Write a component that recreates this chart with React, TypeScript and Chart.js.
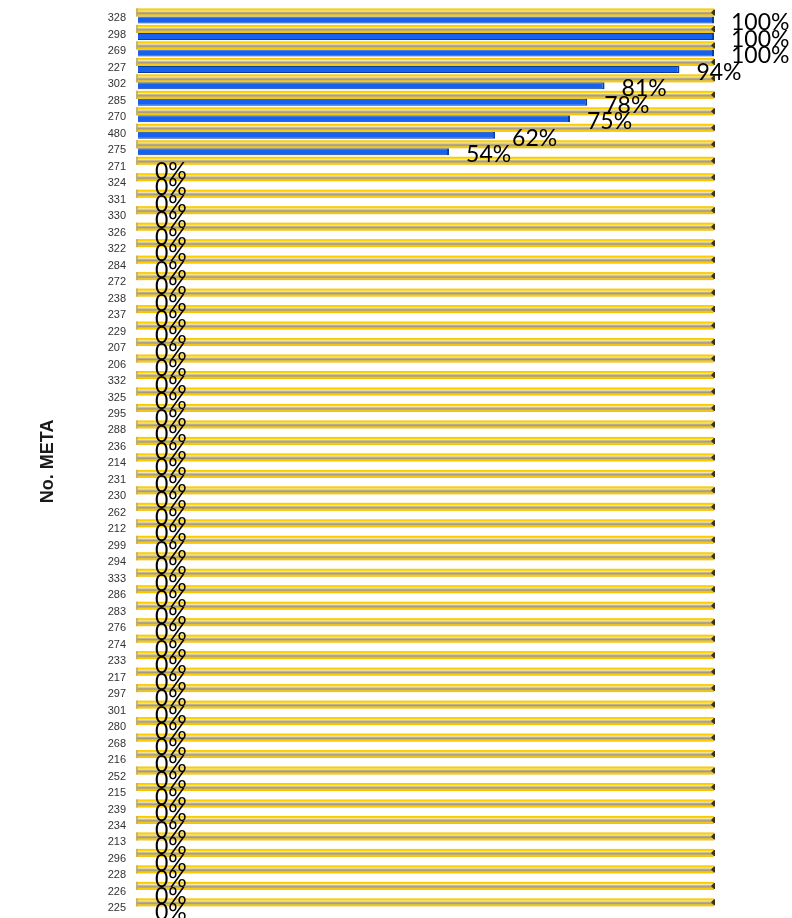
import React, { useEffect, useRef } from 'react';
import { Chart, registerables } from 'chart.js';

Chart.register(...registerables);

const categories = [
  '328', '298', '269', '227', '302', '285', '270', '480', '275', '271',
  '324', '331', '330', '326', '322', '284', '272', '238', '237', '229',
  '207', '206', '332', '325', '295', '288', '236', '214', '231', '230',
  '262', '212', '299', '294', '333', '286', '283', '276', '274', '233',
  '217', '297', '301', '280', '268', '216', '252', '215', '239', '234',
  '213', '296', '228', '226', '225',
];

const metaValues = [
  100, 100, 100, 94, 81, 78, 75, 62, 54, 0,
  0, 0, 0, 0, 0, 0, 0, 0, 0, 0,
  0, 0, 0, 0, 0, 0, 0, 0, 0, 0,
  0, 0, 0, 0, 0, 0, 0, 0, 0, 0,
  0, 0, 0, 0, 0, 0, 0, 0, 0, 0,
  0, 0, 0, 0, 0,
];

const targetValues = [
  100, 100, 100, 100, 100, 100, 100, 100, 100, 100,
  100, 100, 100, 100, 100, 100, 100, 100, 100, 100,
  100, 100, 100, 100, 100, 100, 100, 100, 100, 100,
  100, 100, 100, 100, 100, 100, 100, 100, 100, 100,
  100, 100, 100, 100, 100, 100, 100, 100, 100, 100,
  100, 100, 100, 100, 100,
];

const axisTitle = 'No. META';

const goldBarsPlugin = {
  id: 'goldBars',
  beforeDatasetDraw(chart: any, args: any) {
    if (args.index !== 0) return;
    const ctx = chart.ctx;
    const meta = chart.getDatasetMeta(0);
    ctx.save();
    meta.data.forEach((el: any) => {
      const { x, y, base, height } = el.getProps(['x', 'y', 'base', 'height'], true);
      const top = y - height / 2 - 1;
      const h = height + 1;
      const g = ctx.createLinearGradient(0, top, 0, top + h);
      g.addColorStop(0, '#f5c400');
      g.addColorStop(0.2, '#ffd500');
      g.addColorStop(0.33, '#f3e7b4');
      g.addColorStop(0.5, '#b8ae92');
      g.addColorStop(0.62, '#9f9783');
      g.addColorStop(0.75, '#dcbd3c');
      g.addColorStop(0.86, '#ffcc00');
      g.addColorStop(1, '#efb900');
      ctx.fillStyle = g;
      ctx.fillRect(base - 2, top, x - base + 2, h);
      ctx.fillStyle = 'rgba(190,170,120,0.8)';
      ctx.fillRect(base - 2, top, 2, h);
      ctx.fillStyle = '#3a3318';
      ctx.beginPath();
      ctx.moveTo(x - 3, top + h / 2);
      ctx.lineTo(x, top + 1);
      ctx.lineTo(x + 1, top + 1);
      ctx.lineTo(x + 1, top + h - 1);
      ctx.lineTo(x, top + h - 1);
      ctx.closePath();
      ctx.fill();
    });
    ctx.restore();
    return false;
  },
};

const valueLabelsPlugin = {
  id: 'valueLabels',
  afterDatasetsDraw(chart: any) {
    const ctx = chart.ctx;
    const meta = chart.getDatasetMeta(1);
    const data = chart.data.datasets[1].data;
    ctx.save();
    ctx.font = '23px Lato, "Liberation Sans", sans-serif';
    ctx.fillStyle = '#000000';
    ctx.textAlign = 'left';
    ctx.textBaseline = 'middle';
    meta.data.forEach((el: any, i: number) => {
      const { x, y } = el.getProps(['x', 'y'], true);
      ctx.fillText(`${data[i]}%`, x + 17, y + 3);
    });
    ctx.restore();
  },
};

export default function App() {
  const canvasRef = useRef<HTMLCanvasElement | null>(null);

  useEffect(() => {
    document.body.style.margin = '0';
    const canvas = canvasRef.current;
    if (!canvas) return;
    const chart = new Chart(canvas, {
      type: 'bar',
      data: {
        labels: categories,
        datasets: [
          {
            label: 'Meta',
            data: targetValues,
            backgroundColor: '#ffcc00',
            borderWidth: 0,
          },
          {
            label: 'Avance',
            data: metaValues,
            backgroundColor: '#1662ee',
            borderColor: '#0a3c9e',
            borderWidth: { top: 1, bottom: 1, right: 2, left: 0 },
            borderSkipped: 'start',
          },
        ],
      },
      options: {
        indexAxis: 'y',
        responsive: false,
        animation: false,
        devicePixelRatio: 1,
        datasets: {
          bar: {
            categoryPercentage: 0.85,
            barPercentage: 1,
          },
        },
        layout: {
          padding: { top: 8.2, bottom: 3.4, left: 0, right: 78 },
        },
        plugins: {
          legend: { display: false },
          tooltip: { enabled: false },
        },
        scales: {
          x: {
            display: false,
            min: 0,
            max: 100,
          },
          y: {
            afterFit: (scale: any) => {
              scale.width = 138;
              scale.paddingTop = 0;
              scale.paddingBottom = 0;
            },
            grid: { display: false, drawTicks: false },
            border: { display: false },
            ticks: {
              autoSkip: false,
              padding: 12,
              labelOffset: 2,
              color: '#333333',
              font: { family: '"Liberation Sans", Arial, sans-serif', size: 11 },
            },
            title: {
              display: true,
              text: axisTitle,
              color: '#1a1a1a',
              font: { family: '"Liberation Sans", Arial, sans-serif', size: 18, weight: 'bold' },
              padding: { top: 37, bottom: 0 },
            },
          },
        },
      },
      plugins: [goldBarsPlugin, valueLabelsPlugin],
    });
    return () => {
      chart.destroy();
    };
  }, []);

  return (
    <div style={{ width: 792, height: 918, background: '#ffffff' }}>
      <canvas ref={canvasRef} width={792} height={918} style={{ display: 'block' }} />
    </div>
  );
}
